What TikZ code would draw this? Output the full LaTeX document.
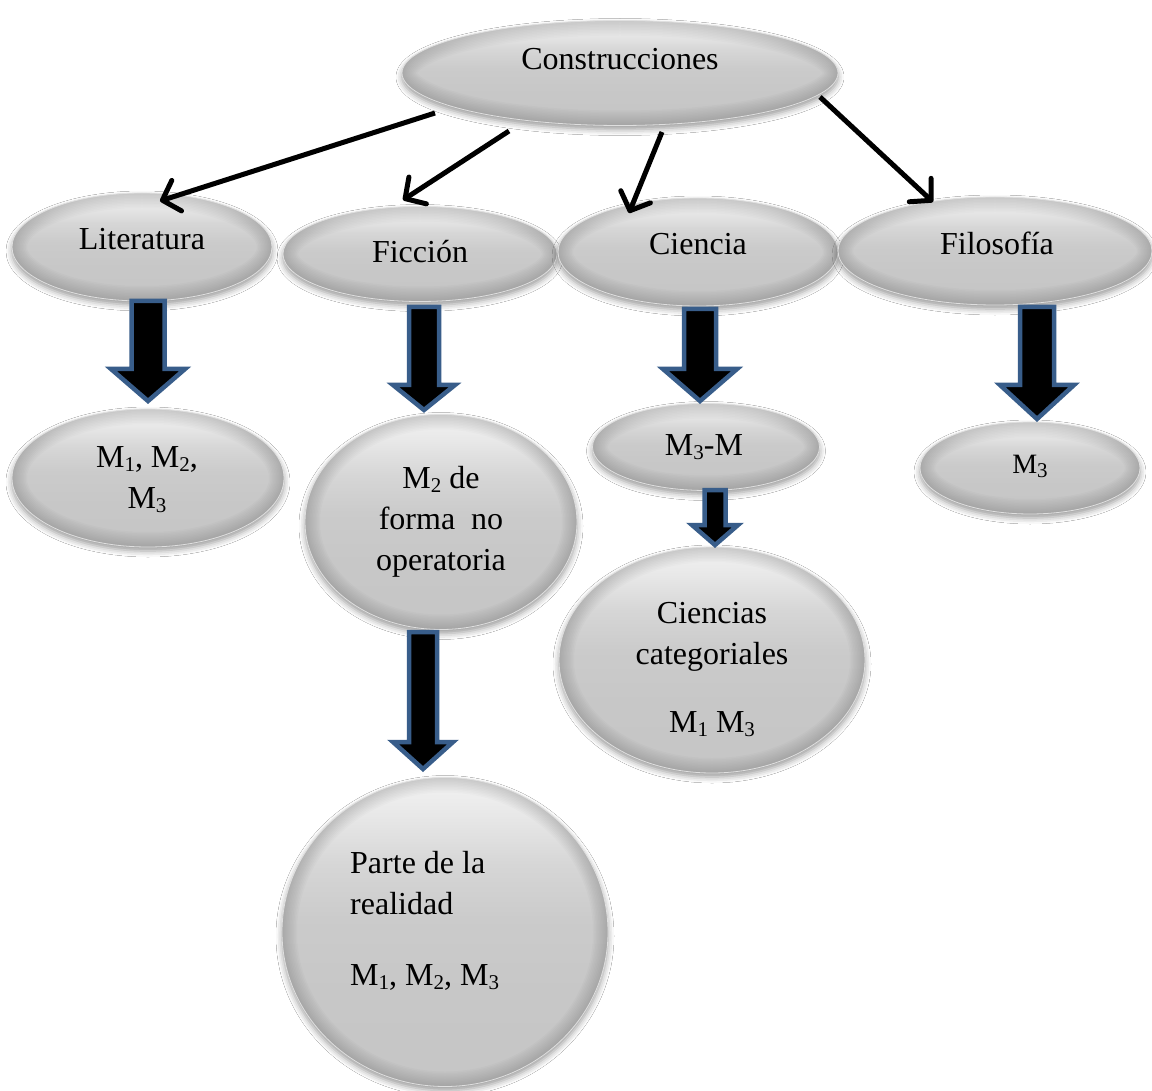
\documentclass[tikz,border=0pt]{standalone}
\usepackage{fontspec}
\setmainfont{Liberation Serif}
\usetikzlibrary{shapes.geometric,calc,arrows.meta,shadows.blur}

% grey body of the bubbles with a glossy light top
\pgfdeclareverticalshading{bubblefill}{100bp}{%
  color(0bp)=(gray!45); color(25bp)=(gray!45); color(40bp)=(gray!44);
  color(52bp)=(gray!41); color(61bp)=(gray!32); color(69bp)=(gray!18);
  color(75bp)=(gray!10); color(100bp)=(gray!10)}
\definecolor{arrowrim}{RGB}{56,93,138}

\newcommand{\lowidx}[1]{\raisebox{-4.5pt}{\fontsize{21}{21}\selectfont #1}}
% block arrow: centre x, top y, tip y, shaft half width, head half width, head length
\newcommand{\fatarrow}[6]{%
  \draw[fatarrow] (#1-#4,#2) -- (#1+#4,#2) -- (#1+#4,#3-#6) -- (#1+#5,#3-#6)
    -- (#1,#3) -- (#1-#5,#3-#6) -- (#1-#4,#3-#6) -- cycle;}

\tikzset{
  rimshade/.style={draw=black, draw opacity=0.015},
  bubble/.style={ellipse, inner sep=0pt, shade, shading=bubblefill,
    draw=gray!25, line width=0.8pt,
    blur shadow={shadow xshift=0pt, shadow yshift=-4pt,
      shadow blur radius=6pt, shadow opacity=40},
    path picture={
      \path let \p1=($(path picture bounding box.north east)-(path picture bounding box.center)$) in
        \pgfextra{\xdef\rx{\x1}\xdef\ry{\y1}};
      \foreach \w in {3,6,...,30}
        \draw[rimshade, line width=\w pt] (path picture bounding box.center)
          ellipse [x radius=\rx, y radius=\ry];
    }},
  lbl/.style={anchor=base, inner sep=0pt, font=\fontsize{32}{41}\selectfont},
  link/.style={line width=5pt,
    -{Straight Barb[length=15pt,width=32pt,line width=5pt,round]}},
  fatarrow/.style={fill=black, draw=arrowrim, line width=4.5pt, line join=miter}
}

\begin{document}
\begin{tikzpicture}[x=1pt, y=-1pt]
\fill[white] (0,0) rectangle (1152,1091);
\useasboundingbox (0,0) rectangle (1152,1091);

% bubbles
\node[bubble, minimum width=436pt, minimum height=105pt] (con) at (620,73) {};
\node[bubble, minimum width=260pt, minimum height=108pt] (lit) at (142,247) {};
\node[bubble, minimum width=274pt, minimum height=95pt]  (fic) at (420,254) {};
\node[bubble, minimum width=280pt, minimum height=108pt] (cie) at (698,252) {};
\node[bubble, minimum width=314pt, minimum height=108pt] (fil) at (995,251) {};
\node[bubble, minimum width=272pt, minimum height=138pt] (m123) at (148,478) {};
\node[bubble, minimum width=272pt, minimum height=215pt] (m2) at (441,522) {};
\node[bubble, minimum width=227pt, minimum height=87pt]  (m3m) at (706,447) {};
\node[bubble, minimum width=220pt, minimum height=92pt]  (m3) at (1030,468) {};
\node[bubble, minimum width=306pt, minimum height=226pt] (cc) at (712,660) {};
\node[bubble, minimum width=326pt, minimum height=309pt] (pr) at (445,932) {};

% labels (multi-line labels are placed by their last baseline)
\node[lbl] at (620,70) {Construcciones};
\node[lbl] at (142,250) {Literatura};
\node[lbl] at (420,263) {Ficción};
\node[lbl] at (698,255) {Ciencia};
\node[lbl] at (997,255) {Filosofía};
\node[lbl, align=center] at (147,508) {M\lowidx{1}, M\lowidx{2},\\M\lowidx{3}};
\node[lbl, align=center] at (441,570) {M\lowidx{2} de\\forma\ \ no\\operatoria};
\node[lbl] at (704,455) {M\lowidx{3}-M};
\node[lbl, font=\fontsize{28}{36}\selectfont] at (1030,473) {M\lowidx{3}};
\node[lbl, align=center] at (712,732) {Ciencias\\categoriales\\[27pt]M\lowidx{1} M\lowidx{3}};
\node[lbl, align=left, anchor=base west] at (350,985) {Parte de la\\realidad\\[30pt]M\lowidx{1}, M\lowidx{2}, M\lowidx{3}};

% connectors from the top bubble
\draw[link] ($(con.center)+(-185,40)$) -- ($(lit.center)+(18,-46)$);
\draw[link] ($(con.center)+(-111,58)$) -- ($(fic.center)+(-17,-54)$);
\draw[link] ($(con.center)+(42,59)$)   -- ($(cie.center)+(-69,-39)$);
\draw[link] ($(con.center)+(200,24)$)  -- ($(fil.center)+(-62,-49)$);

% block arrows
\fatarrow{148}{301}{401}{16.5}{37}{32}
\fatarrow{424}{307}{410}{15}{31}{25}
\fatarrow{700}{309}{401}{16}{37}{32}
\fatarrow{1037}{307}{419}{17}{37}{34}
\fatarrow{715}{490}{545}{10.5}{23}{20}
\fatarrow{423}{632}{769}{14}{30}{27}
\end{tikzpicture}
\end{document}
